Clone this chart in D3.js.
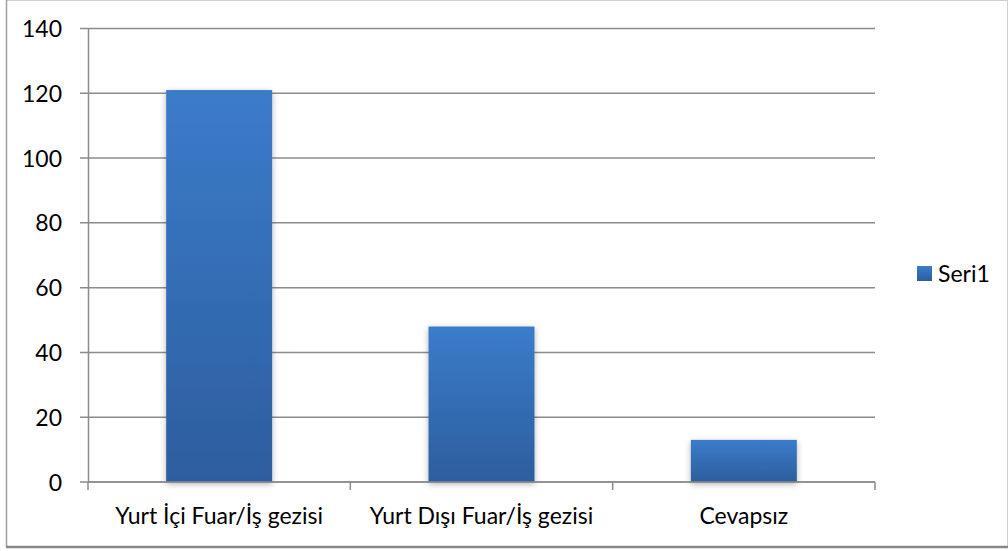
<!DOCTYPE html>
<html><head><meta charset="utf-8">
<script src="https://cdn.jsdelivr.net/npm/d3@7"></script>
<style>body{margin:0;background:#fff}svg{display:block}text{font-family:Lato,"Open Sans",sans-serif;fill:#000}</style>
</head><body><svg id="c" width="1008" height="551"></svg>
<script>
const categories = ["Yurt İçi Fuar/İş gezisi", "Yurt Dışı Fuar/İş gezisi", "Cevapsız"];
const values = [121, 48, 13];
const yTicks = [0, 20, 40, 60, 80, 100, 120, 140];
const seriesName = "Seri1";

const svg = d3.select("#c");
const pLeft = 88, pRight = 875, pTop = 28.5, pBottom = 482;
const fs = "23px";

// frame
svg.append("rect").attr("x", 6.5).attr("y", 0.5).attr("width", 1001).attr("height", 546)
  .attr("fill", "#fff").attr("stroke", "#d0d0d0").attr("stroke-width", 1);
svg.append("line").attr("x1", 6.5).attr("x2", 6.5).attr("y1", 0).attr("y2", 547).attr("stroke", "#a0a0a0").attr("stroke-width", 1.5);
svg.append("line").attr("x1", 6).attr("x2", 1008).attr("y1", 547).attr("y2", 547).attr("stroke", "#888").attr("stroke-width", 2.5);

const defs = svg.append("defs");
const g = defs.append("linearGradient").attr("id", "bg").attr("x1", 0).attr("x2", 0).attr("y1", 0).attr("y2", 1);
g.append("stop").attr("offset", "0%").attr("stop-color", "#3b7cca");
g.append("stop").attr("offset", "100%").attr("stop-color", "#2d5d9e");
const lg = defs.append("linearGradient").attr("id", "lg").attr("x1", 0).attr("x2", 0).attr("y1", 0).attr("y2", 1);
lg.append("stop").attr("offset", "0%").attr("stop-color", "#3b7cca");
lg.append("stop").attr("offset", "100%").attr("stop-color", "#2d5d9e");
const f = defs.append("filter").attr("id", "sh").attr("x", "-20%").attr("y", "-20%").attr("width", "140%").attr("height", "140%");
f.append("feDropShadow").attr("dx", 0).attr("dy", 2).attr("stdDeviation", 3).attr("flood-color", "#000").attr("flood-opacity", 0.3);

const x = d3.scaleBand().domain(categories).range([pLeft, pRight]).paddingInner(0.596).paddingOuter(0.298);
const y = d3.scaleLinear().domain([0, 140]).range([pBottom, pTop]);

// gridlines
svg.append("g").selectAll("line").data(yTicks).join("line")
  .attr("x1", pLeft - 8).attr("x2", pRight).attr("y1", d => y(d)).attr("y2", d => y(d))
  .attr("stroke", "#8c8c8c").attr("stroke-width", 1.5);

// y axis
const ya = svg.append("g").attr("transform", `translate(${pLeft},0)`)
  .call(d3.axisLeft(y).tickValues(yTicks).tickSize(0).tickPadding(26));
ya.select(".domain").attr("stroke", "#8c8c8c").attr("stroke-width", 1.5);
ya.selectAll("text").style("font-size", fs).attr("dy", "0.35em");

// bars
svg.append("g").selectAll("rect").data(values).join("rect")
  .attr("x", (d, i) => x(categories[i])).attr("width", x.bandwidth())
  .attr("y", d => y(d)).attr("height", d => pBottom - y(d))
  .attr("fill", "url(#bg)").attr("filter", "url(#sh)");

// x axis
const xa = svg.append("g").attr("transform", `translate(0,${pBottom})`);
xa.append("line").attr("x1", pLeft).attr("x2", pRight).attr("y1", 0).attr("y2", 0).attr("stroke", "#8c8c8c").attr("stroke-width", 1.5);
const edges = [pLeft].concat(categories.map(c => x(c) - x.step() * x.paddingInner() / 2 + x.step()));
edges[edges.length - 1] = pRight;
xa.selectAll("line.t").data(edges).join("line").attr("class", "t")
  .attr("x1", d => d).attr("x2", d => d).attr("y1", 0).attr("y2", 8)
  .attr("stroke", "#8c8c8c").attr("stroke-width", 1.5);
xa.selectAll("text").data(categories).join("text")
  .attr("x", d => x(d) + x.bandwidth() / 2).attr("y", 42)
  .attr("text-anchor", "middle").style("font-size", fs).text(d => d);

// legend
svg.append("rect").attr("x", 917).attr("y", 266).attr("width", 15).attr("height", 15).attr("fill", "url(#lg)");
svg.append("text").attr("x", 938).attr("y", 282).style("font-size", fs).text(seriesName);
</script></body></html>
